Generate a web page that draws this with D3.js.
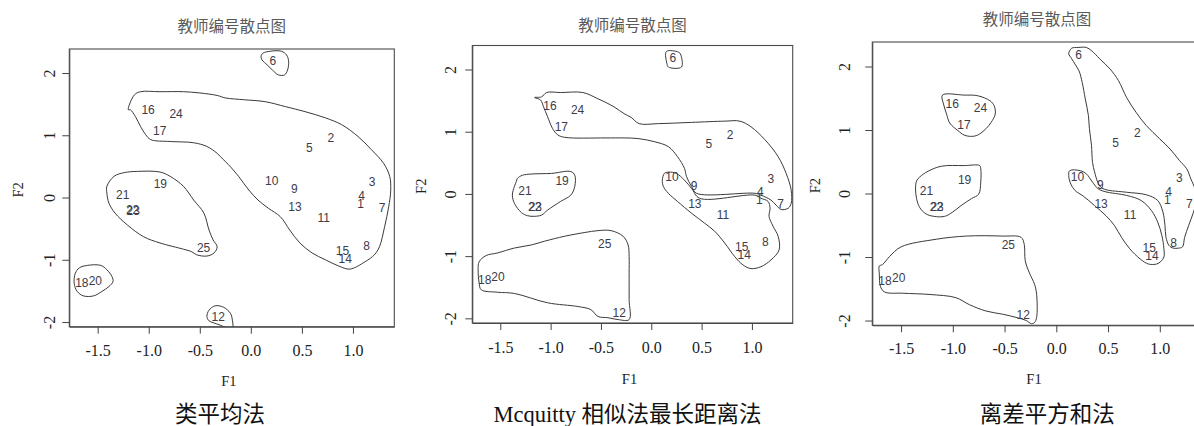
<!DOCTYPE html>
<html>
<head>
<meta charset="utf-8">
<script src="https://cdn.jsdelivr.net/npm/d3@7"></script>
<style>
  html, body { margin: 0; padding: 0; background: #fff; }
  svg { display: block; }
</style>
</head>
<body>
<div id="chart"></div>
<script>
// teacher numbers and their factor scores (same points in every panel)
const teacherIds = [1, 2, 3, 4, 5, 6, 7, 8, 9, 10, 11, 12, 13, 14, 15, 16, 17, 18, 19, 20, 21, 22, 23, 24, 25];
const f1Scores = [1.074, 0.784, 1.188, 1.084, 0.572, 0.215, 1.285, 1.133, 0.426, 0.205, 0.713, -0.319, 0.433,
                  0.924, 0.898, -1.006, -0.893, -1.655, -0.886, -1.523, -1.254, -1.158, -1.152, -0.732, -0.463];
const f2Scores = [-0.101, 0.955, 0.248, 0.027, 0.804, 2.19, -0.161, -0.777, 0.135, 0.268, -0.331, -1.915, -0.154,
                  -0.986, -0.852, 1.410, 1.077, -1.376, 0.215, -1.334, 0.043, -0.204, -0.209, 1.346, -0.804];

// axis limits and ticks
const xLimits = [-1.778, 1.405];
const yLimits = [-2.075, 2.386];
const xTicks = [-1.5, -1.0, -0.5, 0.0, 0.5, 1.0];
const yTicks = [-2, -1, 0, 1, 2];

const plotTitle = "教师编号散点图";
const captions = ["类平均法", "Mcquitty 相似法最长距离法", "离差平方和法"];

// cluster outlines, vertices in (F1, F2)
const averageContours = [
  [[0.10,2.27],[0.12,2.32],[0.19,2.35],[0.30,2.35],[0.35,2.29],[0.37,2.19],[0.36,2.05],[0.33,1.97],
   [0.27,1.97],[0.21,2.05],[0.16,2.13],[0.11,2.21]],
  [[-1.20,1.41],[-1.14,1.65],[-1.08,1.70],[-0.89,1.70],[-0.66,1.70],[-0.50,1.68],[-0.33,1.64],[-0.25,1.60],
   [-0.06,1.57],[0.14,1.54],[0.34,1.46],[0.53,1.38],[0.73,1.28],[0.89,1.17],[1.05,0.98],[1.18,0.77],
   [1.30,0.55],[1.36,0.34],[1.37,0.12],[1.35,-0.15],[1.31,-0.47],[1.26,-0.79],[1.21,-0.92],[1.12,-1.03],
   [0.97,-1.15],[0.86,-1.10],[0.73,-1.00],[0.60,-0.89],[0.48,-0.73],[0.38,-0.52],[0.29,-0.31],[0.17,-0.17],
   [0.07,-0.04],[-0.02,0.12],[-0.12,0.34],[-0.22,0.53],[-0.27,0.61],[-0.33,0.71],[-0.43,0.82],[-0.56,0.88],
   [-0.79,0.90],[-0.98,0.93],[-1.03,1.01],[-1.08,1.14],[-1.13,1.30],[-1.18,1.41]],
  [[-1.41,0.18],[-1.34,0.34],[-1.24,0.40],[-1.11,0.42],[-0.89,0.41],[-0.79,0.34],[-0.66,0.18],[-0.56,-0.04],
   [-0.46,-0.25],[-0.41,-0.52],[-0.37,-0.68],[-0.33,-0.79],[-0.36,-0.89],[-0.43,-0.94],[-0.53,-0.92],
   [-0.58,-0.87],[-0.66,-0.83],[-0.89,-0.73],[-1.05,-0.63],[-1.21,-0.44],[-1.33,-0.25],[-1.39,-0.09],[-1.41,0.07]],
  [[-1.72,-1.22],[-1.68,-1.13],[-1.60,-1.09],[-1.47,-1.09],[-1.41,-1.16],[-1.36,-1.27],[-1.35,-1.35],
   [-1.39,-1.43],[-1.46,-1.51],[-1.54,-1.58],[-1.64,-1.58],[-1.70,-1.51],[-1.73,-1.38]],
  [[-0.43,-1.91],[-0.41,-1.81],[-0.35,-1.74],[-0.27,-1.76],[-0.20,-1.86],[-0.18,-1.98],[-0.18,-2.10],
   [-0.23,-2.10],[-0.30,-2.05],[-0.37,-2.01],[-0.41,-1.98]]
];

const mcquittyContours = [
  [[0.15,2.29],[0.27,2.28],[0.29,2.25],[0.30,2.04],[0.17,2.04],[0.155,2.10]],
  [[-1.16,1.55],[-1.09,1.56],[-1.04,1.63],[-0.90,1.63],[-0.68,1.63],[-0.53,1.53],[-0.37,1.40],[-0.27,1.29],
   [-0.20,1.23],[-0.12,1.13],[0.07,1.13],[0.40,1.15],[0.73,1.17],[0.88,1.17],[0.99,1.08],[1.13,0.87],
   [1.26,0.60],[1.34,0.33],[1.39,0.06],[1.39,-0.15],[1.36,-0.23],[1.29,-0.25],[1.24,-0.18],[1.19,-0.10],
   [1.09,-0.02],[1.03,0.01],[0.45,0.01],[0.40,0.12],[0.35,0.28],[0.33,0.41],[0.26,0.60],[0.17,0.76],
   [0.03,0.84],[-0.13,0.89],[-0.27,0.90],[-0.46,0.90],[-0.86,0.91],[-0.93,0.95],[-0.98,1.05],[-1.03,1.24],
   [-1.07,1.40],[-1.10,1.51]],
  [[0.13,0.33],[0.17,0.35],[0.25,0.33],[0.33,0.22],[0.40,0.09],[0.48,-0.07],[1.03,-0.02],[1.09,-0.07],
   [1.16,-0.12],[1.18,-0.23],[1.17,-0.36],[1.21,-0.52],[1.26,-0.68],[1.27,-0.90],[1.19,-1.06],[1.09,-1.17],
   [0.99,-1.20],[0.91,-1.14],[0.83,-1.01],[0.73,-0.79],[0.63,-0.60],[0.53,-0.47],[0.40,-0.31],[0.26,-0.12],
   [0.17,0.01],[0.12,0.12],[0.11,0.22]],
  [[-1.33,0.25],[-1.28,0.30],[-1.19,0.32],[-0.99,0.33],[-0.80,0.36],[-0.76,0.30],[-0.76,0.12],[-0.80,-0.02],
   [-0.90,-0.12],[-1.03,-0.26],[-1.09,-0.34],[-1.16,-0.36],[-1.23,-0.35],[-1.29,-0.30],[-1.36,-0.15],
   [-1.38,-0.02],[-1.36,0.12],[-1.34,0.20]],
  [[-1.72,-1.22],[-1.71,-1.09],[-1.64,-0.99],[-1.53,-0.95],[-1.36,-0.87],[-1.19,-0.82],[-1.06,-0.76],
   [-0.86,-0.68],[-0.66,-0.62],[-0.53,-0.59],[-0.40,-0.59],[-0.28,-0.68],[-0.23,-0.82],[-0.22,-1.01],
   [-0.22,-1.27],[-0.22,-1.70],[-0.22,-2.02],[-0.33,-2.02],[-0.43,-1.99],[-0.53,-1.97],[-0.60,-1.86],
   [-0.73,-1.81],[-1.03,-1.75],[-1.36,-1.60],[-1.53,-1.58],[-1.69,-1.54],[-1.71,-1.43]]
];

const wardContours = [
  [[-1.10,1.55],[-0.89,1.55],[-0.76,1.54],[-0.64,1.46],[-0.60,1.38],[-0.59,1.25],[-0.63,1.12],[-0.68,1.02],
   [-0.76,0.92],[-0.82,0.90],[-0.89,0.92],[-0.95,0.99],[-1.03,1.11],[-1.06,1.25],[-1.09,1.41]],
  [[-1.35,0.20],[-1.32,0.26],[-1.24,0.35],[-1.11,0.43],[-0.89,0.44],[-0.74,0.44],[-0.73,0.39],[-0.73,0.18],
   [-0.75,-0.01],[-0.82,-0.08],[-0.92,-0.19],[-1.00,-0.29],[-1.08,-0.36],[-1.18,-0.36],[-1.26,-0.32],
   [-1.32,-0.22],[-1.35,-0.08],[-1.36,0.07]],
  [[-1.50,-0.84],[-1.16,-0.72],[-0.87,-0.67],[-0.52,-0.67],[-0.34,-0.69],[-0.31,-0.80],[-0.30,-1.06],
   [-0.26,-1.25],[-0.21,-1.43],[-0.19,-1.59],[-0.19,-1.95],[-0.21,-2.03],[-0.24,-2.05],[-0.29,-2.00],
   [-0.39,-1.95],[-0.52,-1.90],[-0.68,-1.85],[-0.84,-1.75],[-0.97,-1.64],[-1.22,-1.59],[-1.48,-1.57],
   [-1.66,-1.55],[-1.70,-1.46],[-1.71,-1.27],[-1.71,-1.14],[-1.68,-1.12],[-1.61,-0.99]],
  [[0.12,2.20],[0.13,2.25],[0.15,2.29],[0.21,2.30],[0.29,2.30],[0.34,2.25],[0.42,2.12],[0.52,1.96],
   [0.60,1.78],[0.68,1.51],[0.77,1.28],[0.87,1.07],[1.00,0.86],[1.10,0.70],[1.19,0.52],[1.26,0.39],
   [1.30,0.23],[1.34,0.07],[1.35,-0.14],[1.32,-0.32],[1.28,-0.50],[1.24,-0.69],[1.22,-0.84],[1.18,-0.86],
   [1.13,-0.86],[1.09,-0.82],[1.06,-0.69],[1.05,-0.50],[1.03,-0.29],[0.98,-0.11],[0.87,-0.02],[0.68,0.02],
   [0.48,0.06],[0.43,0.10],[0.40,0.18],[0.37,0.34],[0.35,0.49],[0.34,0.76],[0.32,1.02],[0.31,1.23],
   [0.28,1.49],[0.25,1.75],[0.22,1.93],[0.18,2.04],[0.15,2.12]],
  [[0.12,0.28],[0.13,0.36],[0.23,0.36],[0.29,0.31],[0.35,0.18],[0.40,0.08],[0.47,0.03],[0.68,-0.03],
   [0.82,-0.11],[0.92,-0.27],[0.98,-0.45],[1.02,-0.66],[1.04,-0.87],[1.04,-1.00],[1.01,-1.07],[0.97,-1.11],
   [0.89,-1.11],[0.81,-1.03],[0.71,-0.87],[0.63,-0.69],[0.56,-0.50],[0.48,-0.35],[0.37,-0.19],[0.26,-0.04],
   [0.18,0.05],[0.14,0.15]]
];

const points = teacherIds.map((id, i) => ({ id: id, f1: f1Scores[i], f2: f2Scores[i] }));

// layout of the three panels (pixel boxes measured on the figure)
const panels = [
  { left: 69.3,  top: 49,   w: 325,   h: 277.7, titleY: 26, xLab: 23.5, yLab: 20,   xTitle: 54,   yTitle: 51,   capX: 220,    contours: averageContours },
  { left: 472.3, top: 45.5, w: 320.4, h: 277.5, titleY: 25, xLab: 24,   yLab: 21.6, xTitle: 55.5, yTitle: 51.6, capX: 627.5,  contours: mcquittyContours },
  { left: 872.3, top: 42,   w: 329.4, h: 283.3, titleY: 19, xLab: 23,   yLab: 28,   xTitle: 54,   yTitle: 57,   capX: 1047.3, contours: wardContours }
];

const svg = d3.select("#chart").append("svg")
    .attr("width", 1194)
    .attr("height", 426);

const serif = "'Liberation Serif', 'Times New Roman', serif";
const cjk = "'Noto Sans CJK SC', sans-serif";

panels.forEach(function (p, k) {

  let xscale = d3.scaleLinear().domain(xLimits).range([0, p.w]);
  let yscale = d3.scaleLinear().domain(yLimits).range([p.h, 0]);

  let g = svg.append("g").attr("transform", "translate(" + p.left + "," + p.top + ")");

  g.append("clipPath").attr("id", "clip" + k)
    .append("rect").attr("width", p.w).attr("height", p.h);

  // title above the box
  g.append("text")
    .attr("x", p.w / 2)
    .attr("y", p.titleY - p.top + 6)
    .attr("text-anchor", "middle")
    .style("font-family", cjk)
    .style("font-size", "15.5px")
    .attr("fill", "#5a5a5a")
    .text(plotTitle);

  // axes: R style, ticks hanging outward from the box
  let xAxis = d3.axisBottom(xscale).tickValues(xTicks).tickSize(7).tickSizeOuter(0)
      .tickFormat(d => d.toFixed(1));
  let gx = g.append("g").attr("transform", "translate(0," + p.h + ")").call(xAxis);
  gx.selectAll("text")
    .attr("y", p.xLab)
    .attr("dy", "0.35em")
    .style("font-family", serif)
    .style("font-size", "16px")
    .attr("fill", "#222");

  let yAxis = d3.axisLeft(yscale).tickValues(yTicks).tickSize(7).tickSizeOuter(0)
      .tickFormat(d => String(d));
  let gy = g.append("g").call(yAxis);
  gy.selectAll("text")
    .attr("x", null)
    .attr("dy", "0.34em")
    .attr("text-anchor", "middle")
    .attr("transform", "translate(" + (-p.yLab) + ",0) rotate(-90)")
    .style("font-family", serif)
    .style("font-size", "16px")
    .attr("fill", "#222");

  g.selectAll(".domain, .tick line").attr("stroke", "#444");

  // box
  g.append("rect")
    .attr("width", p.w)
    .attr("height", p.h)
    .attr("fill", "none")
    .attr("stroke", "#4a4a4a")
    .attr("stroke-width", 1.1);

  // axis titles
  g.append("text")
    .attr("x", p.w / 2 - 3)
    .attr("y", p.h + p.xTitle + 5)
    .attr("text-anchor", "middle")
    .style("font-family", serif)
    .style("font-size", "14.5px")
    .attr("fill", "#222")
    .text("F1");

  g.append("text")
    .attr("transform", "translate(" + (-p.yTitle) + "," + (p.h / 2 + 2) + ") rotate(-90)")
    .attr("dy", "0.34em")
    .attr("text-anchor", "middle")
    .style("font-family", serif)
    .style("font-size", "14.5px")
    .attr("fill", "#222")
    .text("F2");

  let inner = g.append("g").attr("clip-path", "url(#clip" + k + ")");

  // cluster outlines
  let outline = d3.line()
      .x(d => xscale(d[0]))
      .y(d => yscale(d[1]))
      .curve(d3.curveCatmullRomClosed.alpha(0.5));

  inner.selectAll("path.cluster")
    .data(p.contours)
    .enter()
    .append("path")
      .attr("class", "cluster")
      .attr("d", outline)
      .attr("fill", "none")
      .attr("stroke", "#3a3a3a")
      .attr("stroke-width", 1);

  // teacher number labels at the points
  inner.selectAll("text.pt")
    .data(points)
    .enter()
    .append("text")
      .attr("class", "pt")
      .attr("x", d => xscale(d.f1))
      .attr("y", d => yscale(d.f2))
      .attr("dy", "0.35em")
      .attr("text-anchor", "middle")
      .style("font-family", "'Liberation Sans', Arial, sans-serif")
      .style("font-size", "12px")
      .attr("fill", "#3c3c4a")
      .text(d => d.id);

  // method caption under the panel
  svg.append("text")
    .attr("x", p.capX)
    .attr("y", 421.5)
    .attr("text-anchor", "middle")
    .style("font-family", "'Liberation Serif', 'Noto Sans CJK SC', serif")
    .style("font-size", "22.5px")
    .attr("fill", "#111")
    .text(captions[k]);
});
</script>
</body>
</html>
